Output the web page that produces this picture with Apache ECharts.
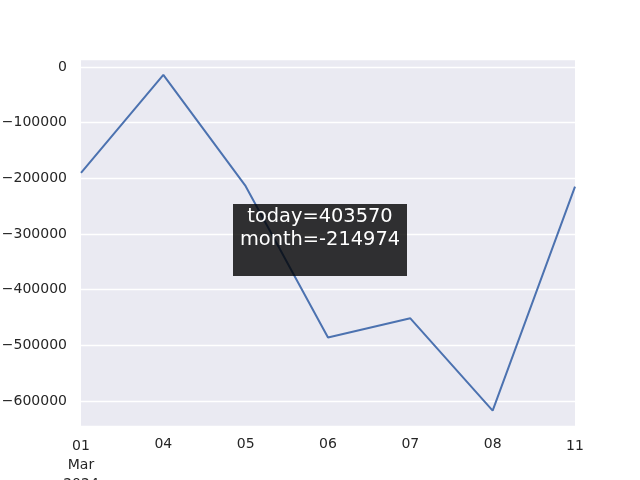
<!DOCTYPE html>
<html>
<head>
<meta charset="utf-8">
<script src="https://cdn.jsdelivr.net/npm/echarts@6/dist/echarts.min.js"></script>
<style>html,body{margin:0;padding:0;background:#fff}#c{width:640px;height:480px}</style>
</head>
<body>
<div id="c"></div>
<script>
var dates = ['2024-03-01','2024-03-04','2024-03-05','2024-03-06','2024-03-07','2024-03-08','2024-03-11'];
var tickLabels = ['01\nMar\n2024','04','05','06','07','08','11'];
var majorTicks = [true,false,false,false,false,false,true];
var values = [-190000,-14000,-214000,-486000,-451500,-617500,-214974];
var yTicks = [0,-100000,-200000,-300000,-400000,-500000,-600000];
var annotationLines = ['today=403570','month=-214974'];

var font = 'DejaVu Sans';
var chart = echarts.init(document.getElementById('c'), null, {renderer:'canvas'});
chart.setOption({
  backgroundColor:'#ffffff',
  animation:false,
  grid:{left:81,right:65,top:59,bottom:54,show:true,backgroundColor:'#EAEAF2',borderWidth:0,containLabel:false,outerBoundsMode:'none'},
  xAxis:{
    type:'category', data:dates, boundaryGap:false,
    axisLine:{show:false}, axisTick:{show:false}, splitLine:{show:false},
    axisLabel:{
      interval:0, margin:9, hideOverlap:false,
      formatter:function(v,i){
        var t = tickLabels[i];
        var st = majorTicks[i] ? 'M' : 'm';
        return t.split('\n').map(function(s){return '{'+st+'|'+s+'}';}).join('\n');
      },
      rich:{
        M:{fontFamily:font,fontSize:14,color:'#262626',lineHeight:19,padding:[3,0,0,0]},
        m:{fontFamily:font,fontSize:14,color:'#262626',lineHeight:19}
      }
    }
  },
  yAxis:{
    type:'value', min:-645000, max:14500, splitNumber:7,
    axisLine:{show:false}, axisTick:{show:false},
    splitLine:{show:true,lineStyle:{color:'#ffffff',width:1.3}},
    axisLabel:{
      showMinLabel:false, showMaxLabel:false,
      fontFamily:font, fontSize:14, color:'#262626', margin:14,
      formatter:function(v){ if(yTicks.indexOf(v)<0) return ''; return String(v).replace('-','\u2212'); }
    }
  },
  series:[{
    type:'line', data:values, showSymbol:false, symbol:'none',
    lineStyle:{color:'#4C72B0',width:2}, z:2
  }],
  graphic:[{
    type:'group', left:233, top:204, z:100, zlevel:1,
    children:[
      {type:'rect', z:100, zlevel:1, shape:{x:0,y:0,width:174,height:72}, style:{fill:'rgba(0,0,0,0.8)'}},
      {type:'text', z:101, zlevel:1, x:87, y:13, style:{text:annotationLines[0], fill:'#ffffff', font:'19.4px "DejaVu Sans"', textAlign:'center', textVerticalAlign:'middle'}},
      {type:'text', z:101, zlevel:1, x:87, y:35.5, style:{text:annotationLines[1], fill:'#ffffff', font:'19.4px "DejaVu Sans"', textAlign:'center', textVerticalAlign:'middle'}}
    ]
  }]
});
</script>
</body>
</html>
